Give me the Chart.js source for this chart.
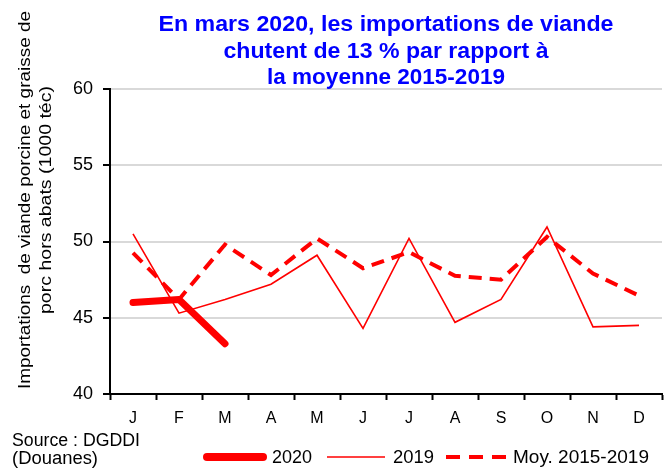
<!DOCTYPE html>
<html><head><meta charset="utf-8">
<script src="https://cdn.jsdelivr.net/npm/chart.js@4"></script>
<style>html,body{margin:0;padding:0;background:#fff}#wrap{width:670px;height:468px}</style>
</head><body><div id="wrap"><canvas id="c" width="670" height="468"></canvas></div>
<script>
const months = ['J','F','M','A','M','J','J','A','S','O','N','D'];
const s2020 = [46.0, 46.2, 43.3, null, null, null, null, null, null, null, null, null];
const s2019 = [50.5, 45.3, 46.2, 47.2, 49.1, 44.3, 50.2, 44.7, 46.2, 50.95, 44.4, 44.5];
const sMoy  = [49.25, 46.2, 49.8, 47.8, 50.2, 48.25, 49.3, 47.75, 47.5, 50.3, 47.9, 46.45];
const yTicks = [40, 45, 50, 55, 60];
const seriesNames = ['2020', '2019', 'Moy. 2015-2019'];
const titleLines = ['En mars 2020, les importations de viande', 'chutent de 13 % par rapport à', 'la moyenne 2015-2019'];
const yTitleLines = ['Importations  de viande porcine et graisse de', 'porc hors abats (1000 téc)'];
const sourceLines = ['Source : DGDDI', '(Douanes)'];

const FONT = '"Liberation Sans", Arial, sans-serif';

function fitText(ctx, text, x, y, w, align) {
  const nat = ctx.measureText(text).width;
  const sx = w / nat;
  ctx.save();
  ctx.translate(x, y);
  ctx.scale(sx, 1);
  ctx.textAlign = align || 'left';
  ctx.fillText(text, 0, 0);
  ctx.restore();
}

const decor = {
  id: 'decor',
  afterDraw(chart) {
    const ctx = chart.ctx;
    const ca = chart.chartArea;
    ctx.save();
    // title
    ctx.fillStyle = '#0000FF';
    ctx.font = 'bold 22px ' + FONT;
    ctx.textBaseline = 'middle';
    const cx = (ca.left + ca.right) / 2;
    const tw = [455, 325, 238];
    const ty = [25, 52, 78];
    titleLines.forEach((t, i) => fitText(ctx, t, cx, ty[i], tw[i], 'center'));
    // y title
    ctx.fillStyle = '#000';
    ctx.font = '17px ' + FONT;
    const yw = [378, 228];
    const yx = [25, 46];
    yTitleLines.forEach((t, i) => {
      ctx.save();
      ctx.translate(yx[i], 200);
      ctx.rotate(-Math.PI / 2);
      fitText(ctx, t, 0, 0, yw[i], 'center');
      ctx.restore();
    });
    // source
    ctx.font = '18px ' + FONT;
    fitText(ctx, sourceLines[0], 12, 441, 128, 'left');
    fitText(ctx, sourceLines[1], 12, 459, 86, 'left');
    // legend
    const ly = 457;
    const items = [
      {ds: 0, x1: 207, x2: 263, tx: 272, tw: 40},
      {ds: 1, x1: 327, x2: 385, tx: 393, tw: 41},
      {ds: 2, x1: 446, x2: 506, tx: 513, tw: 136}
    ];
    items.forEach(it => {
      const d = chart.data.datasets[it.ds];
      ctx.save();
      ctx.strokeStyle = d.borderColor;
      ctx.lineWidth = it.ds === 0 ? 8 : d.borderWidth;
      ctx.lineCap = d.borderCapStyle || 'butt';
      ctx.setLineDash(it.ds === 2 ? [14, 9] : []);
      ctx.beginPath();
      ctx.moveTo(it.x1, ly);
      ctx.lineTo(it.x2, ly);
      ctx.stroke();
      ctx.restore();
      ctx.fillStyle = '#000';
      fitText(ctx, seriesNames[it.ds], it.tx, ly + 1, it.tw, 'left');
    });
    ctx.restore();
  }
};

new Chart(document.getElementById('c'), {
  type: 'line',
  data: {
    labels: months,
    datasets: [
      {label: seriesNames[0], data: s2020, borderColor: '#FF0000', borderWidth: 7, borderCapStyle: 'round', borderJoinStyle: 'round', pointRadius: 0, tension: 0, spanGaps: false},
      {label: seriesNames[1], data: s2019, borderColor: '#FF0000', borderWidth: 1.6, pointRadius: 0, tension: 0},
      {label: seriesNames[2], data: sMoy, borderColor: '#FF0000', borderWidth: 4, borderDash: [13, 8], pointRadius: 0, tension: 0}
    ]
  },
  options: {
    responsive: false,
    animation: false,
    devicePixelRatio: 1,
    layout: {padding: {top: 89, right: 8, left: 0, bottom: 0}},
    plugins: {legend: {display: false}, title: {display: false}, tooltip: {enabled: false}},
    scales: {
      x: {
        offset: true,
        grid: {offset: true, drawOnChartArea: false, drawTicks: true, tickLength: 6, tickColor: '#000', tickWidth: 2},
        border: {color: '#000', width: 2},
        ticks: {color: '#000', font: {family: FONT, size: 16}, padding: 9, maxRotation: 0},
        afterFit(s) { s.height = 74; }
      },
      y: {
        min: 40, max: 60,
        afterBuildTicks(s) { s.ticks = yTicks.map(v => ({value: v})); },
        grid: {color: '#d9d9d9', lineWidth: 2, tickLength: 7, tickColor: '#000', tickWidth: 2},
        border: {color: '#000', width: 2},
        ticks: {color: '#000', font: {family: FONT, size: 18}, padding: 10},
        afterFit(s) { s.width = 110; }
      }
    }
  },
  plugins: [decor]
});
</script></body></html>
